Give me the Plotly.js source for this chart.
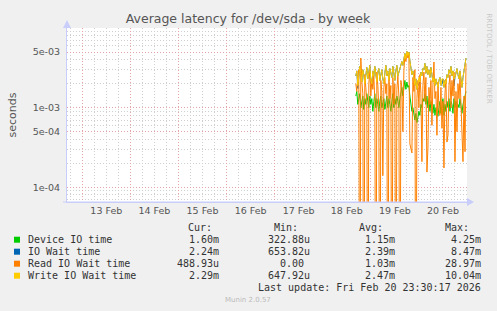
<!DOCTYPE html>
<html><head><meta charset="utf-8">
<script src="https://cdn.plot.ly/plotly-3.0.1.min.js"></script>
<style>html,body{margin:0;padding:0;background:#f0f0f0;}#chart{width:497px;height:311px;}</style>
</head><body><div id="chart"></div>
<script>
// ---- data (values in milliseconds, 30-minute samples from 18 Feb 16:30) ----
const startUTC = Date.UTC(2026, 1, 18, 16, 30);
const stepMs = 1800000;
const deviceIO = [1.4,1.6,1.1,1.3,1.5,1.0,1.2,1.4,0.95,1.3,1.1,1.5,1.2,1.0,1.4,
  1.1,1.3,0.9,1.2,1.5,1.0,1.3,1.1,0.9,1.2,1.4,1.0,1.1,1.3,0.95,
  1.2,1.4,1.0,1.3,1.1,0.9,1.2,1.5,1.0,1.3,1.1,1.4,1.2,1.0,1.3,
  1.5,1.8,1.4,2.0,2.2,1.7,2.1,1.8,1.9,1.4,
  1.1,0.9,1.0,0.8,0.7,0.85,0.65,0.75,
  0.9,0.8,1.1,1.0,1.3,1.2,1.5,
  1.1,1.4,1.0,1.3,0.9,1.2,1.0,
  0.85,1.1,0.8,1.0,0.9,0.78,1.0,1.2,0.85,1.0,1.3,0.8,1.1,0.9,
  1.2,1.0,1.3,0.9,1.2,1.1,0.85,1.3,1.0,1.2,0.9,1.1,1.0,1.3,
  0.95,0.85,1.1,1.2,1.4,1.6];
const ioWait = [2.5,2.9,1.75,2.4,3.3,2.8,2.1,3.0,2.6,2.0,2.8,3.2,2.3,2.7,3.4,
  2.2,1.85,2.9,2.5,3.3,2.4,2.1,2.8,3.1,2.2,2.6,3.0,2.3,2.0,2.7,
  3.4,2.5,2.9,2.2,3.1,2.7,2.4,3.3,2.6,2.2,2.9,3.4,2.5,2.8,3.0,
  3.3,3.8,3.4,4.2,4.8,4.1,5.1,4.5,5.0,3.9,
  3.0,2.6,2.9,2.2,1.9,2.3,1.7,2.0,
  1.95,2.1,2.8,2.5,3.1,3.0,3.6,
  2.7,3.3,2.6,3.0,2.4,3.2,2.6,
  2.1,2.4,1.9,2.3,2.0,1.8,2.2,2.4,1.9,1.95,2.3,1.8,2.2,2.0,
  2.6,2.4,3.0,2.7,3.3,2.5,2.9,1.9,2.4,2.8,3.1,2.6,2.3,2.9,
  2.0,1.8,2.4,2.9,3.6,4.2];
const readIOWait = [2.0,1.6,2.5,3.0,0,4.2,2.2,1.5,0,2.6,1.8,1.2,0,2.0,2.9,
  1.4,2.3,1.7,2.5,1.2,0,2.8,1.9,1.0,0,2.2,1.6,0.14,1.8,2.4,
  1.5,2.0,0,2.6,1.3,1.9,0,2.4,1.1,2.0,0,1.7,2.5,1.4,0,
  2.2,1.8,0.5,2.9,4.6,3.8,5.0,4.2,4.8,0.35,
  0.3,0.27,2.4,1.6,3.0,0,1.3,2.2,
  1.0,2.6,1.5,0.21,1.9,2.8,1.2,
  2.4,0.155,0.31,1.8,1.1,2.2,0.6,
  2.0,3.75,1.3,1.6,0.45,2.1,1.0,0.8,1.8,0.55,1.2,0.175,1.5,2.3,
  0.37,0.45,1.9,2.6,1.0,2.2,1.4,2.8,0.21,1.6,0.5,2.0,1.3,2.5,
  1.1,0.6,0.21,1.4,0.28,3.6];
const writeIOWait = [2.5,2.9,1.9,2.4,3.3,2.8,2.1,3.0,2.6,2.0,2.8,3.2,2.3,2.7,3.4,
  2.2,2.0,2.9,2.5,3.3,2.4,2.1,2.8,3.1,2.2,2.6,3.0,2.3,2.0,2.7,
  3.4,2.5,2.9,2.2,3.1,2.7,2.4,3.3,2.6,2.2,2.9,3.4,2.5,2.8,3.0,
  3.3,3.8,3.4,4.2,4.8,4.1,5.1,4.5,5.0,3.9,
  3.0,2.6,2.9,2.2,1.9,2.3,1.7,2.0,
  2.4,2.1,2.8,2.5,3.1,3.0,3.6,
  2.7,3.3,2.6,3.0,2.4,3.2,2.6,
  2.1,2.4,1.9,2.3,2.0,1.8,2.2,2.4,1.9,2.3,2.3,1.8,2.2,2.0,
  2.6,2.4,3.0,2.7,3.3,2.5,2.9,2.3,2.4,2.8,3.1,2.6,2.3,2.9,
  2.0,1.8,2.4,2.9,3.6,4.2];

const seriesNames = ['Device IO time','IO Wait time','Read IO Wait time','Write IO Wait time'];
const seriesColors = ['#00cc00','#0066b3','#ff8000','#ffcc00'];
const statCur = ['1.60m','2.24m','488.93u','2.29m'];
const statMin = ['322.88u','653.82u','0.00','647.92u'];
const statAvg = ['1.15m','2.39m','1.03m','2.47m'];
const statMax = ['4.25m','8.47m','28.97m','10.04m'];
const yTickVals = [1e-4, 5e-4, 1e-3, 5e-3];
const yTickText = ['1e-04','5e-04','1e-03','5e-03'];
const titleText = 'Average latency for /dev/sda - by week';
const lastUpdate = 'Last update: Fri Feb 20 23:30:17 2026';

// ---- helpers ----
const times = deviceIO.map((_, i) => new Date(startUTC + i * stepMs).toISOString().slice(0, 16).replace('T', ' '));
const LOG_FLOOR = 1e-7; // zero values drop below the log axis
const toSec = arr => arr.map(v => v > 0 ? v * 1e-3 : LOG_FLOOR);
const seriesData = [deviceIO, ioWait, readIOWait, writeIOWait];

const traces = seriesData.map((arr, k) => ({
  type: 'scatter', mode: 'lines', x: times, y: toSec(arr),
  name: seriesNames[k], line: {color: seriesColors[k], width: 1}, hoverinfo: 'skip'
}));

// plot area in pixels
const L = 67, R = 467, T = 28, B = 202;
const px = x => (x - L) / (R - L);
const py = y => (B - y) / (B - T);

const minorY = [];
[1e-5, 1e-4, 1e-3, 1e-2].forEach(d => { [2,3,4,6,7,8,9].forEach(m => minorY.push(m * d)); });

const mono = {family: 'DejaVu Sans Mono', size: 10, color: '#333'};
const ann = [];
const rowsY = [239.7, 251.7, 263.7, 275.7];
const headerY = 227.5;
[['Cur:', 213.5], ['Min:', 299.5], ['Avg:', 384.5], ['Max:', 470.5]].forEach(([t, x]) => {
  ann.push({text: t, x: px(x), y: py(headerY), xref: 'paper', yref: 'paper', xanchor: 'right', yanchor: 'middle', showarrow: false, font: mono});
});
const shapes = [];
seriesNames.forEach((n, k) => {
  const yy = rowsY[k];
  ann.push({text: n, x: px(26), y: py(yy), xref: 'paper', yref: 'paper', xanchor: 'left', yanchor: 'middle', showarrow: false, font: mono});
  const cols = [[statCur[k], 221], [statMin[k], 311.7], [statAvg[k], 396.7], [statMax[k], 482.7]];
  cols.forEach(([t, x]) => {
    const xr = t.match(/[mu]$/) ? x : x - 6;
    ann.push({text: t, x: px(xr), y: py(yy), xref: 'paper', yref: 'paper', xanchor: 'right', yanchor: 'middle', showarrow: false, font: mono});
  });
  shapes.push({type: 'rect', xref: 'paper', yref: 'paper', x0: px(14), x1: px(20), y0: py(yy + 3), y1: py(yy - 3), fillcolor: seriesColors[k], line: {width: 0}});
});
ann.push({text: lastUpdate, x: px(482.7), y: py(287.7), xref: 'paper', yref: 'paper', xanchor: 'right', yanchor: 'middle', showarrow: false, font: mono});
ann.push({text: 'Munin 2.0.57', x: px(248), y: py(300), xref: 'paper', yref: 'paper', xanchor: 'center', yanchor: 'middle', showarrow: false, font: {family: 'DejaVu Sans', size: 7, color: '#bbbbbb'}});
ann.push({text: 'seconds', x: px(11.5), y: py(115), xref: 'paper', yref: 'paper', xanchor: 'center', yanchor: 'middle', textangle: -90, showarrow: false, font: {family: 'DejaVu Sans', size: 11, color: '#555'}});
ann.push({text: 'RRDTOOL / TOBI OETIKER', x: px(488.5), y: py(58), xref: 'paper', yref: 'paper', xanchor: 'center', yanchor: 'middle', textangle: 90, showarrow: false, font: {family: 'DejaVu Sans', size: 7, color: '#c8c8c8'}});

// axis arrows
const axisCol = '#c8cdfa';
shapes.push({type: 'path', xref: 'paper', yref: 'paper', path: `M ${px(467)} ${py(198)} L ${px(474)} ${py(202)} L ${px(467)} ${py(206)} Z`, fillcolor: axisCol, line: {width: 0}});
shapes.push({type: 'path', xref: 'paper', yref: 'paper', path: `M ${px(63)} ${py(28)} L ${px(67)} ${py(20)} L ${px(71)} ${py(28)} Z`, fillcolor: axisCol, line: {width: 0}});
shapes.push({type: 'line', xref: 'paper', yref: 'paper', x0: px(63), x1: px(467), y0: 0, y1: 0, line: {color: axisCol, width: 1}});

const layout = {
  width: 497, height: 311,
  paper_bgcolor: '#f0f0f0', plot_bgcolor: '#ffffff',
  margin: {l: L, r: 497 - R, t: T, b: 311 - B, pad: 0},
  showlegend: false,
  title: {text: titleText, font: {family: 'DejaVu Sans', size: 12.5, color: '#555'}, xref: 'container', yref: 'container', x: 248 / 497, xanchor: 'center', y: 1 - 19 / 311, yanchor: 'middle'},
  xaxis: {
    type: 'date', range: ['2026-02-12 16:22', '2026-02-21 00:00'],
    tick0: '2026-02-13', dtick: 86400000, tickformat: '%-d %b', ticklabelmode: 'period',
    showgrid: true, gridcolor: '#e8a4a4', griddash: '1px,2px', gridwidth: 1,
    minor: {dtick: 21600000, tick0: '2026-02-13', showgrid: true, gridcolor: '#cfcfcf', griddash: '1px,2px', gridwidth: 1},
    showline: true, linecolor: axisCol, linewidth: 1, ticks: '', zeroline: false,
    tickfont: {family: 'DejaVu Sans', size: 9.5, color: '#555'}, fixedrange: true
  },
  yaxis: {
    type: 'log', range: [-4.185, -1.999],
    tickmode: 'array', tickvals: yTickVals, ticktext: yTickText,
    showgrid: true, gridcolor: '#e8a4a4', griddash: '1px,2px', gridwidth: 1,
    minor: {tickmode: 'array', tickvals: minorY, showgrid: true, gridcolor: '#cfcfcf', griddash: '1px,2px', gridwidth: 1},
    showline: true, linecolor: axisCol, linewidth: 1, ticks: '', zeroline: false,
    tickfont: {family: 'DejaVu Sans', size: 9.5, color: '#555'}, ticklabelstandoff: 4, fixedrange: true
  },
  annotations: ann,
  shapes: shapes
};

Plotly.newPlot('chart', traces, layout, {staticPlot: true, displayModeBar: false});
</script>
</body></html>
